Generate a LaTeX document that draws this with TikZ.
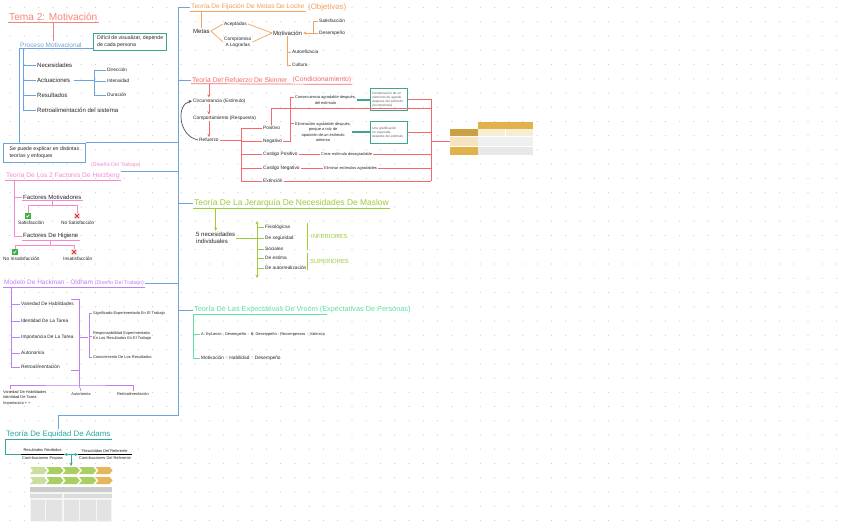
\documentclass[tikz,border=0pt]{standalone}
\usepackage{fontspec}
\setmainfont{Liberation Sans}
\usetikzlibrary{positioning, arrows.meta}

\definecolor{tema}{HTML}{F4877B}
\definecolor{azul}{HTML}{6FA3D8}
\definecolor{caja}{HTML}{3FA58F}
\definecolor{rosa}{HTML}{F38BD2}
\definecolor{lila}{HTML}{BC80F2}
\definecolor{equi}{HTML}{2FA8A0}
\definecolor{naranja}{HTML}{F2A25C}
\definecolor{rojo}{HTML}{F26A6A}
\definecolor{verde}{HTML}{9CCB3B}
\definecolor{menta}{HTML}{62DFA2}
\definecolor{marca}{HTML}{3CB043}
\definecolor{cruz}{HTML}{D9342B}
\definecolor{gris}{HTML}{555555}
\definecolor{chevA}{HTML}{C9DFA0}
\definecolor{chevB}{HTML}{A9CF62}
\definecolor{chevC}{HTML}{E6B65A}
\definecolor{oro}{HTML}{E2B24A}
\definecolor{crema}{HTML}{F6EDD5}

\begin{document}
\begin{tikzpicture}[
    x=0.025cm, y=-0.025cm, line width=0.5pt,
    >={Stealth[length=2.4pt, width=2.2pt]},
    txt/.style={font=\fontsize{4.3}{5.3}\selectfont, text=black!85, inner sep=0.6pt, anchor=west, align=left},
    sm/.style={txt, font=\fontsize{3.4}{4.4}\selectfont},
    xs/.style={txt, font=\fontsize{2.8}{3.9}\selectfont},
    ttl/.style={font=\fontsize{#1}{#1}\selectfont, inner sep=0.6pt, anchor=west},
    nota/.style={txt, font=\fontsize{3.7}{4.8}\selectfont, draw=#1, line width=0.9pt, inner sep=1.8pt},
    mini/.style={font=\fontsize{2.3}{2.8}\selectfont, text=gray!75!black, align=left,
        draw=caja, line width=0.8pt, anchor=north west, inner sep=1.2pt},
    okmark/.style={fill=marca, minimum size=3.8pt, inner sep=0pt,
        path picture={\draw[white, line width=0.4pt]
            ([shift={(-1.2pt,0.1pt)}]path picture bounding box.center) -- ++(0.8pt,-0.9pt) -- ++(1.4pt,1.9pt);}},
    xmark/.style={fill=cruz!15, minimum size=4pt, inner sep=0pt,
        path picture={\draw[cruz, line width=0.7pt]
            ([shift={(0.6pt,0.6pt)}]path picture bounding box.south west) -- ([shift={(-0.6pt,-0.6pt)}]path picture bounding box.north east)
            ([shift={(0.6pt,-0.6pt)}]path picture bounding box.north west) -- ([shift={(-0.6pt,0.6pt)}]path picture bounding box.south east);}}
]
    \useasboundingbox[fill=white] (0,0) rectangle (848,530);

    % Dot grid
    \foreach \i in {0,...,58}
        \foreach \j in {0,...,36}
            \fill[gray!40] ({10+14.25*\i},{7.5+14.25*\j}) circle (0.6);

    % Tema y proceso motivacional
    \node[ttl=7.2, text=tema] (tema) at (8,17) {Tema 2: Motivación};
    \node[ttl=4.6, text=azul] (proc) at (19,45) {Proceso Motivacional};
    \node[nota=caja, minimum width=52pt] (dif) at (93,42) {Difícil de visualizar, depende\\de cada persona};
    \node[txt] (nec) at (36,65) {Necesidades};
    \node[txt] (act) at (36,80) {Actuaciones};
    \node[txt] (res) at (36,95) {Resultados};
    \node[txt] (ret) at (36,110) {Retroalimentación del sistema};
    \node[sm] (dir) at (106,70) {Dirección};
    \node[sm] (inte) at (106,81) {Intensidad};
    \node[sm] (dur) at (106,95) {Duración};
    \node[nota=azul, minimum width=58pt, minimum height=14pt] (expl) at (3,153) {Se puede explicar en distintas\\teorías y enfoques};

    \draw[tema] (tema.south west) -- (tema.south east);
    \draw[tema] (tema.south) -- (tema.south |- proc.north);
    \draw[azul] (proc.south west) -- (proc.south west -| dif.west);
    \draw[azul] (proc.south west) -- (proc.south west |- expl.north);
    \draw[azul] (ret.west) -- ++(-13,0) coordinate (pv) -- (pv |- proc.south);
    \foreach \n in {nec,act,res}
        \draw[azul] (\n.west) -- (\n.west -| pv);
    \draw[azul] (act.east) ++(3,0) -- ++(20,0) coordinate (rm);
    \draw[azul] (rm |- dir.west) -- (rm |- dur.west);
    \foreach \n in {dir,inte,dur}
        \draw[azul] (\n.west) -- (\n.west -| rm);

    % Herzberg
    \node[ttl=4.7, text=rosa] (herz) at (5,176) {Teoría De Los 2 Factores De Herzberg};
    \node[ttl=3.8, text=rosa] (herzd) at (90,165) {(Diseño Del Trabajo)};
    \node[txt] (fmot) at (22,197) {Factores Motivadores};
    \node[okmark] (okA) at (28,216) {};
    \node[xmark] (xA) at (77,216) {};
    \node[sm] (sat) at (17,223) {Satisfacción};
    \node[sm] (nsat) at (60,223) {No Satisfacción};
    \node[txt] (fhig) at (22,236) {Factores De Higiene};
    \node[okmark] (okB) at (15,252) {};
    \node[xmark] (xB) at (74,252) {};
    \node[sm] (nins) at (2,259) {No Insatisfacción};
    \node[sm] (ins) at (62,259) {Insatisfacción};

    \draw[rosa] (herz.south west) -- (herz.south east);
    \draw[rosa] (fhig.west) -- ++(-8,0) coordinate (hv) -- (hv |- herz.south);
    \draw[rosa] (fmot.west) -- (fmot.west -| hv);
    \draw[rosa] (fmot.south west) -- (fmot.south east);
    \draw[rosa] (fmot.south) -- ++(0,5) coordinate (tA);
    \draw[rosa] (okA.north) |- (tA) -| (xA.north);
    \draw[rosa] (fhig.south west) -- (fhig.south east);
    \draw[rosa] (fhig.south) -- ++(0,5) coordinate (tB);
    \draw[rosa] (okB.north) |- (tB) -| (xB.north);

    % Hackman - Oldham
    \node[ttl=4.6, text=lila] (hack) at (3,283) {Modelo De Hackman - Oldham {\fontsize{3.8}{4}\selectfont(Diseño Del Trabajo)}};
    \node[sm] (var) at (20,304) {Variedad De Habilidades};
    \node[sm] (ide) at (20,321) {Identidad De La Tarea};
    \node[sm] (imp) at (20,337) {Importancia De La Tarea};
    \node[sm] (aut) at (20,353) {Autonomía};
    \node[sm] (retro) at (20,367) {Retroalimentación};
    \node[xs] (sig) at (92,313) {Significado Experimentado En El Trabajo};
    \node[xs] (resp) at (92,336) {Responsabilidad Experimentada\\En Los Resultados En El Trabajo};
    \node[xs] (con) at (92,357) {Conocimiento De Los Resultados};
    \node[xs, anchor=north west] (b1) at (2,389) {Variedad De Habilidades\\Identidad De Tarea\\Importancia + +};
    \node[xs, anchor=north] (b2) at (81,391) {Autonomía};
    \node[xs, anchor=north] (b3) at (133,391) {Retroalimentación};

    \draw[lila] (hack.south west) -- (hack.south east);
    \draw[lila] (retro.west) -- ++(-9,0) coordinate (kv) -- (kv |- hack.south);
    \foreach \n in {var,ide,imp,aut}
        \draw[lila] (\n.west) -- (\n.west -| kv);
    \draw[lila] (71,299) -| (79,370) -- (71,370);
    \draw[lila] (79,337) -- (88,337);
    \draw[lila] (sig.west) -- ++(-3,0) |- (con.west);
    \draw[lila] (resp.west) -- ++(-3,0);
    \draw[lila] (79,370) -- (79,385) coordinate (hb);
    \draw[lila] ([xshift=-10pt]b1.north) |- (hb) -| (b3.north);
    \draw[lila] (hb) -- (b2.north);

    % Equidad de Adams
    \node[ttl=5.6, text=equi] (adams) at (5,434) {Teoría De Equidad De Adams};
    \node[xs, align=center] (rpro) at (21,454.5) {Resultados Recibidos\\[1.2pt]Contribuciones Propias};
    \node[xs, align=center] (rref) at (78,454.5) {Resultados Del Referente\\[1.2pt]Contribuciones Del Referente};
    \coordinate (img) at (71,466);

    \draw[equi] (adams.south west) -- (adams.south east);
    \draw[equi] (adams.south west) |- (rpro.west);
    \draw[line width=0.35pt] (rpro.west) -- (rpro.east);
    \draw[line width=0.35pt] (rref.west) -- (rref.east);
    \draw[equi, <->] (rpro.east) -- (rref.west);
    \path (rpro.east) -- (rref.west) coordinate[pos=0.5] (mid);
    \draw[equi, ->] (mid) -- (mid |- img);

    % Equity picture
    \foreach \t in {467,477}
        \foreach \i/\c in {0/chevA,1/chevB,2/chevB,3/chevB,4/chevC}
            \fill[\c] ({30+16.4*\i},\t) -- ++(14,0) -- ++(3,3.5) -- ++(-3,3.5) -- ++(-14,0) -- ++(3,-3.5) -- cycle;
    \fill[gray!8] (30,487) rectangle (112,522);
    \fill[gray!40] (30,487) rectangle (112,492);
    \fill[gray!28] (30,494) rectangle (62,498);
    \fill[gray!28] (64,494) rectangle (112,498);
    \foreach \a/\b in {31/45,46/62,64/79,80/96,97/111}
        \fill[gray!22] (\a,500) rectangle (\b,521);

    % Locke
    \node[ttl=4.7, text=naranja] (locke) at (190,7) {Teoría De Fijación De Metas De Locke};
    \node[ttl=5.6, text=naranja, right=1pt of locke] (lockeo) {(Objetivos)};
    \node[txt] (metas) at (192,31) {Metas};
    \node[sm] (acep) at (223,24) {Aceptadas};
    \node[sm, align=center] (comp) at (223,42) {Compromiso\\A Lograrlas};
    \node[txt] (motiv) at (272,33) {Motivación};
    \node[sm] (sati) at (318,21) {Satisfacción};
    \node[sm] (dese) at (318,33) {Desempeño};
    \node[sm] (autoe) at (291,52) {Autoeficacia};
    \node[sm] (cult) at (291,65) {Cultura};

    \draw[naranja] (locke.south west) -- (locke.south east);
    \draw[naranja] (metas.north |- locke.south) -- (metas.north);
    \draw[naranja] (metas.east) -- (acep.west);
    \draw[naranja] (metas.east) -- (comp.west);
    \draw[naranja] (acep.east) -- (motiv.west);
    \draw[naranja] (comp.east) -- (motiv.west);
    \draw[naranja] (motiv.south) |- (cult.west);
    \draw[naranja] (autoe.west) -- (autoe.west -| motiv.south);
    \draw[naranja, <-] (motiv.east) -- (dese.west);
    \draw[naranja] (sati.west) -- ++(-5,0) -- ++(0,12);

    % Skinner
    \node[ttl=4.8, text=rojo] (skin) at (191,80) {Teoría Del Refuerzo De Skinner};
    \node[ttl=4.8, text=rojo, right=2pt of skin] (skind) {(Condicionamiento)};
    \node[sm] (est) at (192,101) {Circunstancia (Estímulo)};
    \node[sm] (cond) at (192,118) {Comportamiento (Respuesta)};
    \node[sm] (refu) at (198,140) {Refuerzo};
    \node[sm] (pos) at (262,128) {Positivo};
    \node[sm] (neg) at (262,141) {Negativo};
    \node[sm] (cpos) at (262,154) {Castigo Positivo};
    \node[sm] (cneg) at (262,168) {Castigo Negativo};
    \node[sm] (ext) at (262,181) {Extinción};
    \node[xs, align=center] (d1) at (294,100) {Consecuencia agradable después,\\del estímulo};
    \node[xs, align=center] (d2) at (294,132) {Eliminación agradable después,\\porque a raíz de\\aparición de un estímulo\\adverso};
    \node[xs] (d3) at (320,154) {Crear estímulo desagradable};
    \node[xs] (d4) at (323,168) {Eliminar estímulos agradables};
    \node[mini, text width=24pt, minimum height=15.5pt] (k1) at (370,88) {Incorporación de un\\elemento de agrado\\después del estímulo\\(recompensa)};
    \node[mini, text width=24pt, minimum height=15.5pt] (k2) at (370,121) {Una gratificación\\no esperada\\después del estímulo};
    \coordinate (kr) at (431,97);
    \coordinate (tabla) at (450,141);

    \draw[rojo] (skin.south west) -- (skind.south east);
    \draw[rojo, ->] (refu.north |- skin.south) -- (refu.north |- est.north);
    \draw[rojo, ->] (refu.north |- est.south) -- (refu.north |- cond.north);
    \draw[rojo, ->] (refu.north |- cond.south) -- (refu.north);
    \draw[gris, ->] (refu.west) .. controls (178,136) and (176,104) .. (est.west);
    \draw[rojo] (refu.east) -- ++(22,0) coordinate (rs);
    \draw[rojo] (pos.west) -| (rs |- ext.west) -- (ext.west);
    \foreach \n in {neg,cpos,cneg}
        \draw[rojo] (\n.west) -- (\n.west -| rs);
    \draw[rojo] (pos.north) |- (kr |- 0,108);
    \draw[rojo] (neg.east) -| (290,97.5) -- (d1.west |- 0,97.5);
    \draw[rojo] (290,97.5) |- (d2.west |- 0,123.5);
    \draw[caja, line width=0.8pt] (d1.east) -- (d1.east -| k1.west);
    \draw[caja, line width=0.8pt] (d2.east) -- (d2.east -| k2.west);
    \draw[rojo] (k1.east) -- (k1.east -| kr);
    \draw[rojo] (k2.east) -- (k2.east -| kr);
    \draw[rojo] (cpos.east) -- (d3.west);
    \draw[rojo] (cneg.east) -- (d4.west);
    \foreach \n in {d3,d4,ext}
        \draw[rojo] (\n.east) -- (\n.east -| kr);
    \draw[rojo] (kr |- k1.east) -- (kr |- ext.east);
    \draw[rojo] (kr |- tabla) -- (tabla);

    % Reinforcement table
    \fill[oro] (478,122) rectangle (533,129);
    \fill[oro!90!black] (450,129) rectangle (478,136);
    \fill[crema] (478,129) rectangle (505,136);
    \fill[crema] (506,129) rectangle (533,136);
    \fill[oro!35] (450,137) rectangle (478,146);
    \fill[gray!12] (478,137) rectangle (533,146);
    \fill[oro] (450,147) rectangle (478,155);
    \fill[gray!18] (478,147) rectangle (533,155);

    % Maslow
    \node[ttl=6, text=verde] (mas) at (193,203) {Teoría De La Jerarquía De Necesidades De Maslow};
    \node[txt] (cinco) at (195,238) {5 necesidades\\individuales};
    \node[sm] (fis) at (264,227) {Fisiológicas};
    \node[sm] (seg) at (264,238) {De seguridad};
    \node[sm] (soc) at (264,249) {Sociales};
    \node[sm] (estm) at (264,258) {De estima};
    \node[sm] (autor) at (264,268) {De autorrealización};
    \node[ttl=4.2, text=verde] (inf) at (310,236) {INFERIORES};
    \node[ttl=4.2, text=verde] (sup) at (309,261) {SUPERIORES};
    \coordinate (mt) at (257,221);

    \draw[verde] (mas.south west) -- (mas.south east);
    \draw[verde, ->] (cinco.north |- mas.south) -- (cinco.north);
    \draw[verde, <->] (mt) -- (257,278);
    \draw[verde] (cinco.east) -- (cinco.east -| mt);
    \foreach \n in {fis,seg,soc,estm,autor}
        \draw[verde] (\n.west) -- (\n.west -| mt);
    \draw[verde, line width=0.7pt] (307,223) -- (307,250) (307,253) -- (307,270);

    % Vroom
    \node[ttl=5.2, text=menta] (vro) at (193,310) {Teoría De Las Expectativas De Vroom (Expectativas De Personas)};
    \node[xs] (f1) at (200,334) {A: Esfuerzo - Desempeño {\color{menta}×} B: Desempeño - Recompensas {\color{menta}×} Valencia};
    \node[sm] (f2) at (200,358) {Motivación {\color{menta}×} Habilidad {\color{menta}=} Desempeño};

    \draw[menta] (vro.south west) -- ([xshift=-60pt]vro.south east);
    \draw[menta] (vro.south west) |- (f2.west);
    \draw[menta] (f1.west) -- (f1.west -| vro.south west);

    % Main spine
    \coordinate (top) at (178,7);
    \coordinate (bot) at (178,415);
    \draw[azul] (top) -- (bot) -- (bot -| adams.north) -- (adams.north);
    \draw[azul] (top) -- (locke.west);
    \draw[azul] (skin.west -| top) -- (skin.west);
    \draw[azul] (mas.west -| top) -- (mas.west);
    \draw[azul] (vro.west -| top) -- (vro.west);
    \draw[azul] (expl.north east) -- (expl.north east -| top);
    \draw[azul] (herz.north east) -- (herz.north east -| top);
    \draw[azul] (hack.east) -- (hack.east -| top);

\end{tikzpicture}
\end{document}
